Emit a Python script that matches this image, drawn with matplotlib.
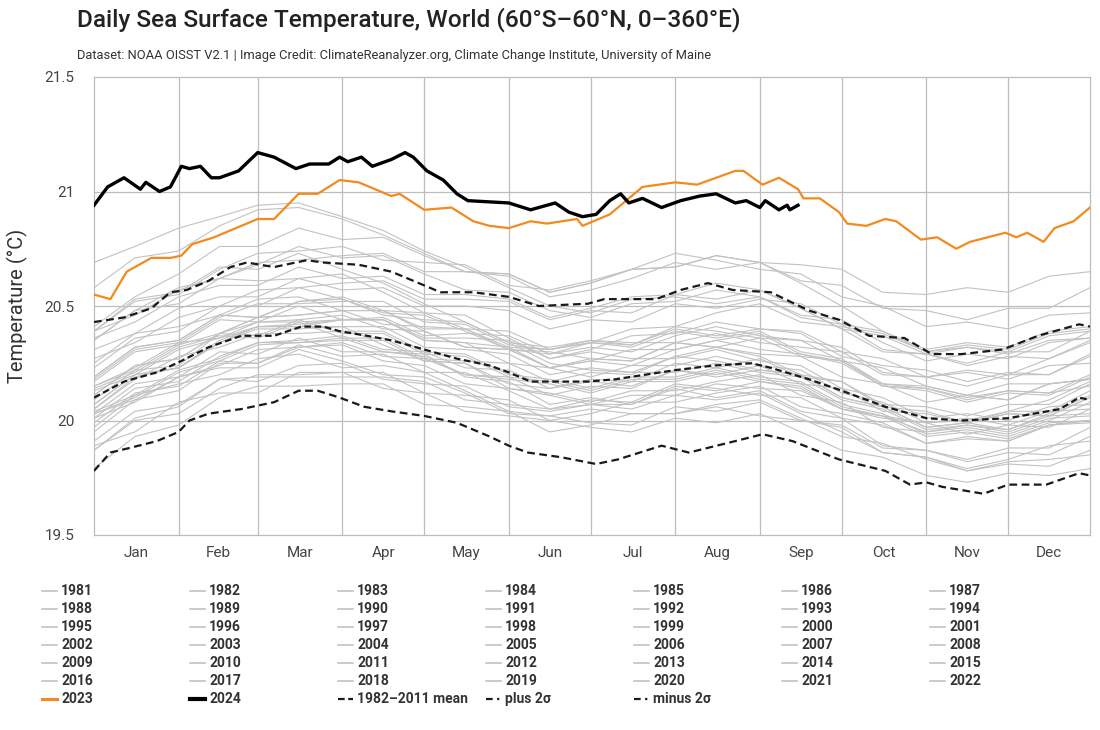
import matplotlib
matplotlib.use("Agg")
import matplotlib.pyplot as plt
from matplotlib.lines import Line2D

# day-of-year sample points for the grey history years (about every half month)
days = [1, 16, 32, 47, 61, 76, 92, 107, 122, 137, 153, 168, 183, 198, 214, 229,
        245, 260, 275, 290, 306, 321, 336, 351, 366]

t1981 = [19.97, 20.11, 20.16, 20.20, 20.27, 20.29, 20.23, 20.24, 20.21, 20.13, 20.04, 20.02, 20.05, 20.03, 20.03, 20.07, 20.09, 20.01, 19.93, 19.90, 19.83, 19.78, 19.82, 19.83, 19.85]
t1982 = [19.87, 20.01, 20.06, 20.18, 20.19, 20.19, 20.19, 20.19, 20.17, 20.09, 20.07, 20.05, 20.07, 20.05, 20.11, 20.16, 20.14, 20.13, 20.05, 20.02, 19.99, 20.00, 20.04, 20.09, 20.17]
t1983 = [20.15, 20.23, 20.34, 20.36, 20.41, 20.41, 20.41, 20.33, 20.26, 20.25, 20.14, 20.11, 20.07, 20.11, 20.11, 20.09, 20.12, 20.03, 19.95, 19.86, 19.84, 19.78, 19.81, 19.80, 19.87]
t1984 = [19.89, 19.95, 20.08, 20.12, 20.12, 20.21, 20.21, 20.14, 20.12, 20.04, 20.02, 20.00, 19.97, 19.95, 20.01, 19.99, 20.03, 19.95, 19.87, 19.84, 19.76, 19.73, 19.77, 19.76, 19.79]
t1985 = [19.79, 19.93, 19.98, 20.10, 20.15, 20.15, 20.16, 20.16, 20.07, 20.06, 20.04, 19.95, 19.98, 20.03, 20.03, 20.06, 20.02, 20.00, 19.97, 19.86, 19.84, 19.79, 19.83, 19.89, 19.91]
t1986 = [19.91, 20.04, 20.07, 20.18, 20.17, 20.24, 20.25, 20.18, 20.16, 20.15, 20.06, 20.04, 20.07, 20.07, 20.15, 20.13, 20.17, 20.14, 20.05, 20.02, 19.95, 19.98, 19.96, 20.03, 20.11]
t1987 = [20.09, 20.22, 20.24, 20.38, 20.43, 20.43, 20.44, 20.44, 20.35, 20.34, 20.32, 20.23, 20.26, 20.31, 20.31, 20.35, 20.38, 20.29, 20.25, 20.15, 20.14, 20.10, 20.13, 20.12, 20.15]
t1988 = [20.14, 20.21, 20.32, 20.37, 20.36, 20.43, 20.36, 20.30, 20.29, 20.19, 20.17, 20.07, 20.10, 20.07, 20.14, 20.10, 20.13, 20.04, 20.01, 19.89, 19.87, 19.82, 19.86, 19.85, 19.93]
t1989 = [19.87, 20.00, 20.03, 20.14, 20.20, 20.20, 20.21, 20.21, 20.12, 20.11, 20.09, 20.00, 20.03, 20.08, 20.08, 20.12, 20.15, 20.06, 20.03, 19.99, 19.90, 19.92, 19.91, 19.98, 20.00]
t1990 = [20.01, 20.14, 20.17, 20.28, 20.34, 20.34, 20.35, 20.35, 20.26, 20.25, 20.16, 20.14, 20.17, 20.15, 20.22, 20.19, 20.22, 20.20, 20.10, 20.06, 19.97, 19.99, 20.03, 20.02, 20.10]
t1991 = [20.05, 20.18, 20.28, 20.32, 20.38, 20.38, 20.39, 20.39, 20.30, 20.29, 20.20, 20.18, 20.14, 20.19, 20.19, 20.23, 20.19, 20.17, 20.07, 20.03, 19.94, 19.96, 19.93, 19.99, 20.00]
t1992 = [20.03, 20.09, 20.19, 20.23, 20.23, 20.31, 20.26, 20.20, 20.19, 20.12, 20.03, 20.02, 19.99, 19.98, 20.06, 20.04, 20.08, 20.00, 19.98, 19.88, 19.87, 19.83, 19.88, 19.88, 19.97]
t1993 = [19.95, 20.09, 20.13, 20.25, 20.25, 20.33, 20.28, 20.29, 20.21, 20.21, 20.13, 20.05, 20.09, 20.08, 20.16, 20.14, 20.11, 20.10, 20.01, 19.98, 19.90, 19.93, 19.91, 19.98, 20.00]
t1994 = [20.01, 20.08, 20.19, 20.24, 20.31, 20.32, 20.34, 20.28, 20.27, 20.20, 20.19, 20.11, 20.15, 20.14, 20.22, 20.20, 20.24, 20.16, 20.14, 20.04, 20.03, 19.99, 20.04, 20.04, 20.13]
t1995 = [20.11, 20.24, 20.27, 20.38, 20.37, 20.44, 20.38, 20.38, 20.29, 20.28, 20.19, 20.17, 20.13, 20.18, 20.18, 20.22, 20.18, 20.16, 20.06, 20.02, 19.93, 19.95, 19.92, 19.98, 19.99]
t1996 = [19.99, 20.12, 20.15, 20.26, 20.25, 20.32, 20.33, 20.26, 20.24, 20.16, 20.14, 20.12, 20.08, 20.13, 20.13, 20.17, 20.20, 20.11, 20.08, 19.97, 19.95, 19.97, 19.94, 20.00, 20.08]
t1997 = [20.05, 20.19, 20.23, 20.35, 20.41, 20.41, 20.44, 20.45, 20.37, 20.38, 20.37, 20.29, 20.34, 20.40, 20.41, 20.47, 20.51, 20.43, 20.41, 20.38, 20.30, 20.33, 20.31, 20.38, 20.40]
t1998 = [20.39, 20.53, 20.56, 20.67, 20.66, 20.73, 20.66, 20.60, 20.51, 20.43, 20.34, 20.25, 20.22, 20.21, 20.21, 20.25, 20.21, 20.19, 20.09, 20.05, 19.96, 19.98, 19.95, 20.01, 20.02]
t1999 = [20.03, 20.16, 20.19, 20.30, 20.29, 20.36, 20.30, 20.30, 20.28, 20.20, 20.18, 20.16, 20.12, 20.17, 20.17, 20.21, 20.17, 20.15, 20.05, 20.01, 19.99, 19.94, 19.98, 19.97, 20.05]
t2000 = [20.04, 20.11, 20.22, 20.27, 20.34, 20.35, 20.37, 20.31, 20.30, 20.23, 20.22, 20.14, 20.18, 20.17, 20.25, 20.23, 20.27, 20.19, 20.17, 20.07, 20.06, 20.02, 20.07, 20.07, 20.16]
t2001 = [20.13, 20.20, 20.31, 20.36, 20.43, 20.44, 20.46, 20.40, 20.39, 20.32, 20.31, 20.23, 20.27, 20.26, 20.34, 20.32, 20.29, 20.28, 20.19, 20.16, 20.08, 20.11, 20.09, 20.16, 20.18]
t2002 = [20.19, 20.32, 20.35, 20.46, 20.45, 20.52, 20.53, 20.46, 20.44, 20.43, 20.34, 20.32, 20.35, 20.33, 20.40, 20.37, 20.40, 20.38, 20.28, 20.24, 20.22, 20.17, 20.21, 20.20, 20.28]
t2003 = [20.27, 20.34, 20.45, 20.50, 20.50, 20.58, 20.53, 20.47, 20.46, 20.39, 20.31, 20.30, 20.27, 20.26, 20.34, 20.32, 20.36, 20.28, 20.26, 20.16, 20.15, 20.11, 20.09, 20.16, 20.18]
t2004 = [20.17, 20.30, 20.33, 20.44, 20.43, 20.50, 20.44, 20.44, 20.35, 20.34, 20.25, 20.23, 20.26, 20.24, 20.31, 20.35, 20.31, 20.29, 20.26, 20.15, 20.13, 20.08, 20.12, 20.11, 20.19]
t2005 = [20.18, 20.31, 20.34, 20.45, 20.51, 20.51, 20.52, 20.52, 20.43, 20.42, 20.33, 20.31, 20.34, 20.32, 20.39, 20.36, 20.39, 20.30, 20.27, 20.16, 20.14, 20.09, 20.13, 20.12, 20.20]
t2006 = [20.15, 20.22, 20.33, 20.38, 20.45, 20.46, 20.48, 20.42, 20.41, 20.40, 20.31, 20.29, 20.32, 20.30, 20.37, 20.41, 20.37, 20.35, 20.32, 20.21, 20.19, 20.21, 20.18, 20.24, 20.25]
t2007 = [20.25, 20.38, 20.41, 20.46, 20.53, 20.54, 20.48, 20.48, 20.39, 20.32, 20.31, 20.23, 20.19, 20.24, 20.24, 20.28, 20.24, 20.22, 20.12, 20.08, 19.99, 20.01, 19.98, 20.04, 20.05]
t2008 = [20.03, 20.10, 20.21, 20.26, 20.33, 20.34, 20.36, 20.36, 20.27, 20.26, 20.25, 20.17, 20.21, 20.20, 20.28, 20.26, 20.22, 20.20, 20.10, 20.06, 19.97, 19.99, 19.96, 20.02, 20.03]
t2009 = [20.07, 20.20, 20.23, 20.34, 20.41, 20.42, 20.44, 20.44, 20.36, 20.36, 20.35, 20.27, 20.31, 20.37, 20.38, 20.43, 20.40, 20.39, 20.30, 20.27, 20.19, 20.22, 20.20, 20.27, 20.34]
t2010 = [20.35, 20.48, 20.51, 20.62, 20.61, 20.62, 20.64, 20.56, 20.47, 20.46, 20.36, 20.27, 20.30, 20.27, 20.27, 20.31, 20.26, 20.24, 20.14, 20.10, 20.01, 20.03, 20.00, 20.06, 20.07]
t2011 = [20.07, 20.20, 20.23, 20.34, 20.40, 20.40, 20.41, 20.41, 20.32, 20.31, 20.29, 20.20, 20.23, 20.21, 20.28, 20.32, 20.28, 20.20, 20.17, 20.06, 20.04, 19.99, 20.03, 20.02, 20.10]
t2012 = [20.11, 20.24, 20.27, 20.38, 20.45, 20.46, 20.48, 20.48, 20.40, 20.40, 20.32, 20.31, 20.34, 20.33, 20.41, 20.39, 20.36, 20.35, 20.26, 20.23, 20.15, 20.11, 20.16, 20.16, 20.18]
t2013 = [20.19, 20.32, 20.35, 20.46, 20.45, 20.52, 20.54, 20.48, 20.47, 20.40, 20.39, 20.31, 20.35, 20.34, 20.34, 20.38, 20.34, 20.32, 20.30, 20.20, 20.19, 20.15, 20.20, 20.20, 20.29]
t2014 = [20.23, 20.36, 20.39, 20.50, 20.57, 20.58, 20.60, 20.61, 20.53, 20.53, 20.52, 20.44, 20.48, 20.47, 20.55, 20.53, 20.57, 20.49, 20.40, 20.37, 20.29, 20.32, 20.30, 20.37, 20.39]
t2015 = [20.39, 20.46, 20.57, 20.62, 20.69, 20.70, 20.72, 20.73, 20.65, 20.65, 20.64, 20.56, 20.60, 20.66, 20.67, 20.72, 20.69, 20.68, 20.66, 20.56, 20.55, 20.58, 20.56, 20.63, 20.65]
t2016 = [20.69, 20.76, 20.84, 20.89, 20.94, 20.95, 20.89, 20.83, 20.74, 20.67, 20.58, 20.50, 20.47, 20.53, 20.54, 20.51, 20.54, 20.45, 20.42, 20.31, 20.29, 20.24, 20.28, 20.27, 20.35]
t2017 = [20.35, 20.48, 20.58, 20.62, 20.68, 20.76, 20.71, 20.72, 20.64, 20.57, 20.56, 20.48, 20.45, 20.51, 20.52, 20.57, 20.54, 20.46, 20.44, 20.34, 20.26, 20.29, 20.27, 20.34, 20.36]
t2018 = [20.31, 20.38, 20.49, 20.54, 20.54, 20.62, 20.57, 20.58, 20.50, 20.50, 20.48, 20.40, 20.44, 20.43, 20.51, 20.49, 20.53, 20.51, 20.42, 20.39, 20.31, 20.34, 20.32, 20.39, 20.41]
t2019 = [20.41, 20.54, 20.64, 20.76, 20.76, 20.84, 20.79, 20.80, 20.72, 20.65, 20.64, 20.56, 20.60, 20.66, 20.67, 20.72, 20.69, 20.61, 20.59, 20.49, 20.48, 20.44, 20.49, 20.49, 20.58]
t2020 = [20.58, 20.71, 20.74, 20.85, 20.92, 20.93, 20.88, 20.81, 20.73, 20.65, 20.63, 20.54, 20.57, 20.62, 20.69, 20.66, 20.69, 20.60, 20.50, 20.39, 20.30, 20.32, 20.29, 20.35, 20.36]
t2021 = [20.36, 20.43, 20.54, 20.59, 20.59, 20.67, 20.62, 20.63, 20.55, 20.55, 20.53, 20.45, 20.49, 20.54, 20.55, 20.60, 20.57, 20.49, 20.40, 20.30, 20.29, 20.25, 20.30, 20.30, 20.39]
t2022 = [20.39, 20.52, 20.55, 20.66, 20.73, 20.74, 20.76, 20.70, 20.69, 20.68, 20.59, 20.57, 20.61, 20.66, 20.73, 20.70, 20.66, 20.64, 20.54, 20.50, 20.41, 20.43, 20.40, 20.46, 20.47]

# 2023 (orange)
d2023 = [1, 7, 13, 22, 29, 33, 37, 45, 51, 61, 67, 76, 83, 91, 98, 110, 113, 122, 132, 140,
         146, 153, 161, 167, 178, 180, 190, 202, 214, 222, 236, 239, 246, 252, 259, 261, 267,
         274, 277, 284, 291, 295, 304, 310, 317, 322, 335, 339, 343, 349, 353, 360, 366]
t2023 = [20.55, 20.53, 20.65, 20.71, 20.71, 20.72, 20.77, 20.80, 20.83, 20.88, 20.88, 20.99,
         20.99, 21.05, 21.04, 20.98, 20.99, 20.92, 20.93, 20.87, 20.85, 20.84, 20.87, 20.86,
         20.88, 20.85, 20.90, 21.02, 21.04, 21.03, 21.09, 21.09, 21.03, 21.06, 21.01, 20.97,
         20.97, 20.91, 20.86, 20.85, 20.88, 20.87, 20.79, 20.80, 20.75, 20.78, 20.82, 20.80,
         20.82, 20.78, 20.84, 20.87, 20.93]

# 2024 (black, to mid September)
d2024 = [1, 6, 12, 18, 20, 25, 29, 33, 36, 40, 44, 47, 54, 61, 67, 75, 80, 87, 91, 94, 99,
         103, 110, 115, 118, 123, 129, 134, 138, 153, 161, 170, 175, 180, 185, 190, 194, 197,
         202, 209, 216, 223, 229, 236, 240, 245, 247, 252, 255, 256, 259]
t2024 = [20.94, 21.02, 21.06, 21.01, 21.04, 21.00, 21.02, 21.11, 21.10, 21.11, 21.06, 21.06,
         21.09, 21.17, 21.15, 21.10, 21.12, 21.12, 21.15, 21.13, 21.15, 21.11, 21.14, 21.17,
         21.15, 21.09, 21.05, 20.99, 20.96, 20.95, 20.92, 20.95, 20.91, 20.89, 20.90, 20.96,
         20.99, 20.95, 20.97, 20.93, 20.96, 20.98, 20.99, 20.95, 20.96, 20.93, 20.96, 20.92,
         20.94, 20.92, 20.94]

# 1982-2011 mean
d_mean = [1, 12, 24, 33, 43, 55, 67, 77, 85, 91, 101, 110, 122, 134, 146, 153, 161, 182,
          192, 214, 228, 242, 249, 263, 275, 291, 306, 319, 336, 355, 362, 366]
t_mean = [20.10, 20.17, 20.21, 20.26, 20.32, 20.37, 20.37, 20.41, 20.41, 20.39, 20.37, 20.35,
          20.31, 20.27, 20.24, 20.21, 20.17, 20.17, 20.18, 20.22, 20.24, 20.25, 20.23, 20.18,
          20.13, 20.06, 20.01, 20.00, 20.01, 20.05, 20.10, 20.09]

# plus 2 sigma
d_plus = [1, 12, 22, 29, 35, 43, 51, 57, 67, 79, 85, 98, 110, 122, 128, 140, 153, 164, 182,
          188, 207, 216, 226, 235, 249, 263, 274, 285, 298, 308, 319, 334, 347, 362, 366]
t_plus = [20.43, 20.45, 20.49, 20.56, 20.57, 20.61, 20.67, 20.69, 20.67, 20.70, 20.69, 20.68,
          20.65, 20.59, 20.56, 20.56, 20.54, 20.50, 20.51, 20.53, 20.53, 20.57, 20.60, 20.57,
          20.56, 20.48, 20.44, 20.37, 20.36, 20.29, 20.29, 20.31, 20.37, 20.42, 20.41]

# minus 2 sigma
d_minus = [1, 7, 14, 24, 32, 36, 43, 55, 67, 76, 83, 91, 100, 110, 122, 134, 146, 153, 160,
           172, 185, 193, 209, 219, 236, 246, 257, 274, 291, 300, 306, 312, 327, 336, 350, 362, 366]
t_minus = [19.78, 19.86, 19.88, 19.91, 19.95, 20.00, 20.03, 20.05, 20.08, 20.13, 20.13, 20.10,
           20.06, 20.04, 20.02, 19.99, 19.93, 19.89, 19.86, 19.84, 19.81, 19.83, 19.89, 19.86,
           19.91, 19.94, 19.91, 19.83, 19.78, 19.72, 19.73, 19.71, 19.68, 19.72, 19.72, 19.77, 19.76]

months = ["Jan", "Feb", "Mar", "Apr", "May", "Jun", "Jul", "Aug", "Sep", "Oct", "Nov", "Dec"]
month_starts = [1, 32, 61, 92, 122, 153, 183, 214, 245, 275, 306, 336, 366]

grey_years = {
    1981: t1981, 1982: t1982, 1983: t1983, 1984: t1984, 1985: t1985, 1986: t1986, 1987: t1987,
    1988: t1988, 1989: t1989, 1990: t1990, 1991: t1991, 1992: t1992, 1993: t1993, 1994: t1994,
    1995: t1995, 1996: t1996, 1997: t1997, 1998: t1998, 1999: t1999, 2000: t2000, 2001: t2001,
    2002: t2002, 2003: t2003, 2004: t2004, 2005: t2005, 2006: t2006, 2007: t2007, 2008: t2008,
    2009: t2009, 2010: t2010, 2011: t2011, 2012: t2012, 2013: t2013, 2014: t2014, 2015: t2015,
    2016: t2016, 2017: t2017, 2018: t2018, 2019: t2019, 2020: t2020, 2021: t2021, 2022: t2022,
}

plt.rcParams["font.family"] = ["Roboto", "DejaVu Sans"]

GREY = "#c2c2c2"
ORANGE = "#f28a1e"
GRID = "#bdbdbd"

fig = plt.figure(figsize=(11, 7.3), dpi=100)
W, H = 1100, 730
ax = fig.add_axes([94 / W, 1 - 535 / H, (1090 - 94) / W, (535 - 77) / H])

for yr, vals in grey_years.items():
    ax.plot(days, vals, color=GREY, lw=0.8, zorder=2)

ax.plot(d_mean, t_mean, color="#1a1a1a", lw=1.6, ls=(0, (3, 1.6)), zorder=3)
ax.plot(d_plus, t_plus, color="#1a1a1a", lw=1.6, ls=(0, (3.5, 2)), zorder=3)
ax.plot(d_minus, t_minus, color="#1a1a1a", lw=1.6, ls=(0, (3.5, 2)), zorder=3)
ax.plot(d2023, t2023, color=ORANGE, lw=1.6, zorder=4)
ax.plot(d2024, t2024, color="black", lw=2.4, zorder=5)

ax.set_xlim(1, 366)
ax.set_ylim(19.5, 21.5)
ax.set_yticks([19.5, 20, 20.5, 21, 21.5])
ax.set_yticklabels(["19.5", "20", "20.5", "21", "21.5"])
for y in [20, 20.5, 21]:
    ax.axhline(y, color=GRID, lw=0.9, zorder=1)
for d in month_starts[1:-1]:
    ax.axvline(d, color=GRID, lw=0.9, zorder=1)
mids = [(month_starts[i] + month_starts[i + 1]) / 2 for i in range(12)]
ax.set_xticks(mids)
ax.set_xticklabels(months)
ax.tick_params(length=0, labelsize=11, colors="#444", pad=8)
ax.tick_params(axis="y", pad=14)
for s in ax.spines.values():
    s.set_color(GRID)
    s.set_linewidth(0.9)
ax.set_ylabel("Temperature (°C)", fontsize=14.5, color="#333", labelpad=12)

fig.text(77 / W, 1 - 20 / H, "Daily Sea Surface Temperature, World (60°S–60°N, 0–360°E)",
         fontsize=17.6, color="#222", va="center", ha="left", fontweight="medium")
fig.text(77 / W, 1 - 55 / H,
         "Dataset: NOAA OISST V2.1 | Image Credit: ClimateReanalyzer.org, Climate Change Institute, University of Maine",
         fontsize=9.3, color="#333", va="center", ha="left")

# legend, laid out row by row like the original
entries = [(str(y), dict(color=GREY, lw=1.2, ls="-")) for y in grey_years]
entries += [("2023", dict(color=ORANGE, lw=2.2, ls="-")),
            ("2024", dict(color="black", lw=3.0, ls="-")),
            ("1982–2011 mean", dict(color="#1a1a1a", lw=1.6, ls=(0, (3, 1.6)))),
            ("plus 2σ", dict(color="#1a1a1a", lw=1.6, ls=(0, (3, 2, 1, 2)))),
            ("minus 2σ", dict(color="#1a1a1a", lw=1.6, ls=(0, (3, 2, 1, 2))))]
for i, (label, style) in enumerate(entries):
    r, c = divmod(i, 7)
    x0 = 42 + 148 * c
    yc = 591 + 18 * r
    fig.add_artist(Line2D([x0 / W, (x0 + 15) / W], [1 - yc / H, 1 - yc / H], **style))
    fig.text((x0 + 19) / W, 1 - yc / H, label, fontsize=10, fontweight="bold",
             color="#333", va="center", ha="left")

fig.savefig("out.png", dpi=100)
